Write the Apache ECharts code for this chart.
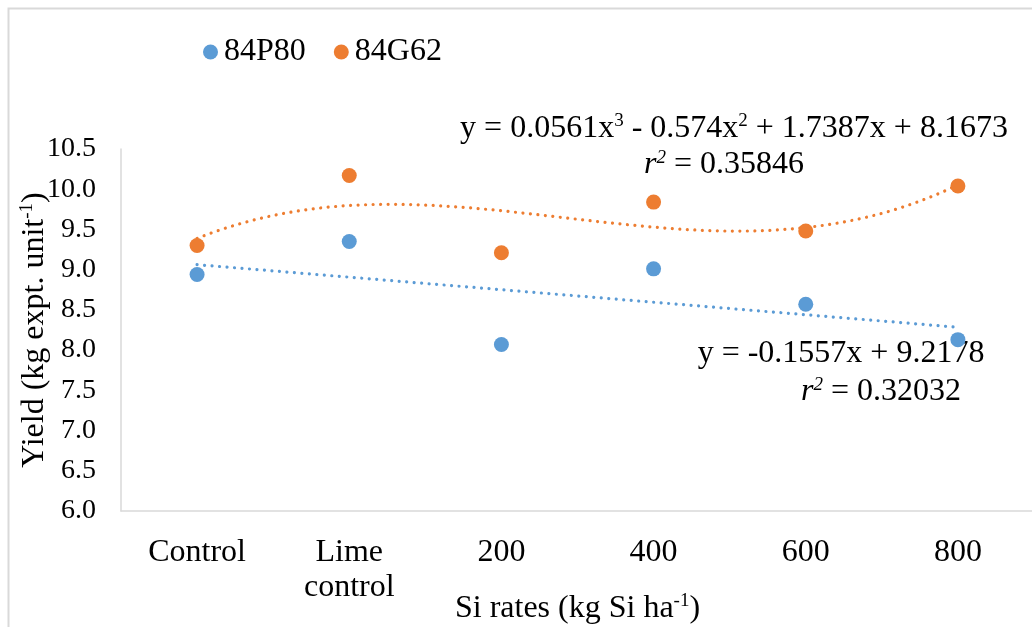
<!DOCTYPE html>
<html>
<head>
<meta charset="utf-8">
<script src="https://cdn.jsdelivr.net/npm/echarts@6/dist/echarts.min.js"></script>
<style>
html,body{margin:0;padding:0;background:#fff;}
#chart{width:1032px;height:627px;}
</style>
</head>
<body>
<div id="chart"></div>
<script>
const categories = ['Control', 'Lime\ncontrol', '200', '400', '600', '800'];
const seriesNames = ['84P80', '84G62'];
const yield84P80 = [8.94, 9.35, 8.07, 9.01, 8.57, 8.13];
const yield84G62 = [9.30, 10.17, 9.21, 9.84, 9.48, 10.04];
// trendline coefficients as displayed (highest power first)
const linCoef84P80 = [-0.1557, 9.2178];
const polyCoef84G62 = [0.0561, -0.574, 1.7387, 8.1673];
const yTicks = { min: 6.0, max: 10.5, interval: 0.5 };

const FONT = 'Liberation Serif';
const BLUE = '#5B9BD5';
const ORANGE = '#ED7D31';

function evalPoly(coef, x) {
  let v = 0;
  for (const c of coef) v = v * x + c;
  return v;
}
function trend(coef, n) {
  const pts = [];
  for (let i = 0; i <= n; i++) {
    const x = 1 + (categories.length - 1) * i / n;
    pts.push([x, evalPoly(coef, x)]);
  }
  return pts;
}

const supStyle = { fontFamily: FONT, fontSize: 19, verticalAlign: 'top', lineHeight: 34, color: '#000' };
const supItal = { fontFamily: FONT, fontSize: 19, fontStyle: 'italic', verticalAlign: 'top', lineHeight: 34, color: '#000' };
const baseRich = {
  sup: supStyle,
  si: supItal,
  i: { fontFamily: FONT, fontSize: 32, fontStyle: 'italic', color: '#000', lineHeight: 34 },
  t: { fontFamily: FONT, fontSize: 32, color: '#000', lineHeight: 34 }
};
function label(text, x, y) {
  return {
    type: 'text', x: x, y: y, silent: true,
    style: { text: text, align: 'center', verticalAlign: 'middle', rich: baseRich }
  };
}

const chart = echarts.init(document.getElementById('chart'), null, { renderer: 'canvas' });
chart.setOption({
  animation: false,
  backgroundColor: '#fff',
  textStyle: { fontFamily: FONT, color: '#000' },
  grid: { left: 121, top: 149, width: 913, height: 362, containLabel: false, outerBoundsMode: 'none' },
  legend: {
    left: 198, top: 31,
    icon: 'circle', itemWidth: 15, itemHeight: 15, itemGap: 28,
    textStyle: { fontFamily: FONT, fontSize: 32, color: '#000', padding: [0, 0, 0, 1] },
    data: seriesNames
  },
  xAxis: [{
    type: 'category',
    data: categories,
    boundaryGap: true,
    axisLine: { lineStyle: { color: '#d9d9d9', width: 1.5 } },
    axisTick: { show: false },
    axisLabel: { fontFamily: FONT, fontSize: 32, color: '#000', margin: 24, lineHeight: 35, interval: 0 },
    name: 'Si rates (kg Si ha{sup|-1})',
    nameLocation: 'middle',
    nameMoveOverlap: false,
    nameGap: 81,
    nameTextStyle: { fontFamily: FONT, fontSize: 32, color: '#000', rich: { sup: supStyle } }
  }, {
    type: 'value', min: 0.5, max: categories.length + 0.5, show: false
  }],
  yAxis: {
    type: 'value',
    min: yTicks.min, max: yTicks.max, interval: yTicks.interval,
    axisLine: { show: true, lineStyle: { color: '#d9d9d9', width: 1.5 } },
    axisTick: { show: false },
    splitLine: { show: false },
    axisLabel: { fontFamily: FONT, fontSize: 28, color: '#000', margin: 25, padding: [4, 0, 0, 0], formatter: v => v.toFixed(1) },
    name: 'Yield (kg expt. unit{sup|-1})',
    nameLocation: 'middle',
    nameMoveOverlap: false,
    nameRotate: 90,
    nameGap: 69,
    nameTextStyle: { fontFamily: FONT, fontSize: 32, color: '#000', rich: { sup: supStyle } }
  },
  series: [
    {
      name: seriesNames[0], type: 'scatter', data: yield84P80,
      symbol: 'circle', symbolSize: 15, itemStyle: { color: BLUE, opacity: 1 }, z: 3
    },
    {
      name: seriesNames[1], type: 'scatter', data: yield84G62,
      symbol: 'circle', symbolSize: 15, itemStyle: { color: ORANGE, opacity: 1 }, z: 3
    },
    {
      name: 'trend84P80', type: 'line', xAxisIndex: 1, data: trend(linCoef84P80, 1),
      showSymbol: false, symbol: 'none', silent: true, z: 2,
      lineStyle: { color: BLUE, width: 3.2, type: [0.01, 7.5], cap: 'round' }
    },
    {
      name: 'trend84G62', type: 'line', xAxisIndex: 1, data: trend(polyCoef84G62, 100),
      showSymbol: false, symbol: 'none', silent: true, z: 2,
      lineStyle: { color: ORANGE, width: 3.2, type: [0.01, 7.5], cap: 'round' }
    }
  ],
  graphic: [
    {
      type: 'rect', left: 6, top: 6, silent: true,
      shape: { width: 1040, height: 640 },
      style: { fill: 'none', stroke: '#d9d9d9', lineWidth: 2 }
    },
    label('{t|y = 0.0561x}{sup|3}{t| - 0.574x}{sup|2}{t| + 1.7387x + 8.1673}', 734, 129),
    label('{i|r}{si|2}{t| = 0.35846}', 724, 165),
    label('{t|y = -0.1557x + 9.2178}', 841, 354),
    label('{i|r}{si|2}{t| = 0.32032}', 881, 392)
  ]
});
</script>
</body>
</html>
